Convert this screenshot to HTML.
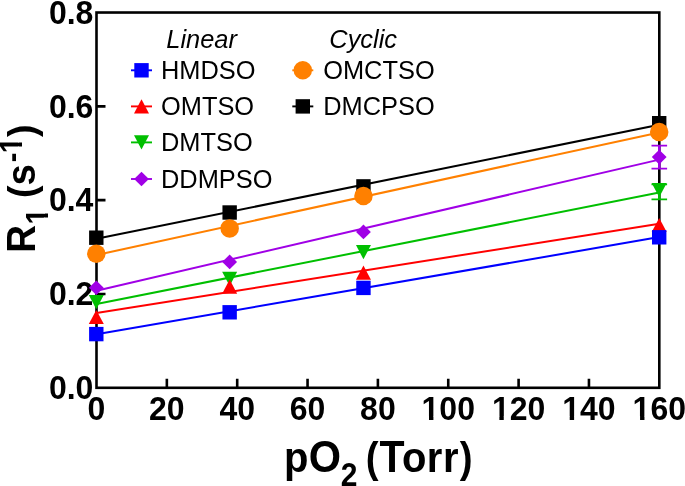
<!DOCTYPE html>
<html><head><meta charset="utf-8"><title>R1 vs pO2</title><style>
html,body{margin:0;padding:0;background:#fff;}
body{width:685px;height:486px;overflow:hidden;}
svg{display:block;will-change:transform;}
text{font-family:"Liberation Sans", sans-serif;fill:#000;}
</style></head><body>
<svg width="685" height="486" viewBox="0 0 685 486">
<rect width="685" height="486" fill="#fff"/>
<rect x="96.50" y="12.52" width="562.80" height="375.28" fill="none" stroke="#000" stroke-width="2.6"/>
<path d="M166.85 387.80V378.80M237.20 387.80V378.80M307.55 387.80V378.80M377.90 387.80V378.80M448.25 387.80V378.80M518.60 387.80V378.80M588.95 387.80V378.80M96.50 293.98H105.50M96.50 200.16H105.50M96.50 106.34H105.50" stroke="#000" stroke-width="2.6" fill="none"/>
<text transform="translate(96.50,420.00) scale(1,1.06)" font-size="32" text-anchor="middle" font-weight="bold">0</text>
<text transform="translate(166.85,420.00) scale(1,1.06)" font-size="32" text-anchor="middle" font-weight="bold">20</text>
<text transform="translate(237.20,420.00) scale(1,1.06)" font-size="32" text-anchor="middle" font-weight="bold">40</text>
<text transform="translate(307.55,420.00) scale(1,1.06)" font-size="32" text-anchor="middle" font-weight="bold">60</text>
<text transform="translate(377.90,420.00) scale(1,1.06)" font-size="32" text-anchor="middle" font-weight="bold">80</text>
<text clip-path="url(#c100)" transform="translate(448.25,420.00) scale(1,1.06)" font-size="32" text-anchor="middle" font-weight="bold">100</text>
<text clip-path="url(#c120)" transform="translate(518.60,420.00) scale(1,1.06)" font-size="32" text-anchor="middle" font-weight="bold">120</text>
<text clip-path="url(#c140)" transform="translate(588.95,420.00) scale(1,1.06)" font-size="32" text-anchor="middle" font-weight="bold">140</text>
<text clip-path="url(#c160)" transform="translate(659.30,420.00) scale(1,1.06)" font-size="32" text-anchor="middle" font-weight="bold">160</text>
<text transform="translate(93.40,399.00) scale(1,1.06)" font-size="32" text-anchor="end" font-weight="bold">0.0</text>
<text transform="translate(93.40,305.18) scale(1,1.06)" font-size="32" text-anchor="end" font-weight="bold">0.2</text>
<text transform="translate(93.40,211.36) scale(1,1.06)" font-size="32" text-anchor="end" font-weight="bold">0.4</text>
<text transform="translate(93.40,117.54) scale(1,1.06)" font-size="32" text-anchor="end" font-weight="bold">0.6</text>
<text transform="translate(93.40,23.72) scale(1,1.06)" font-size="32" text-anchor="end" font-weight="bold">0.8</text>
<line x1="96.50" y1="238.80" x2="659.30" y2="124.70" stroke="#000000" stroke-width="2.0"/>
<line x1="96.50" y1="254.90" x2="659.30" y2="132.40" stroke="#ff8000" stroke-width="2.0"/>
<line x1="96.50" y1="290.70" x2="659.30" y2="159.60" stroke="#a000e6" stroke-width="2.0"/>
<line x1="96.50" y1="303.90" x2="659.30" y2="192.60" stroke="#00bf00" stroke-width="2.0"/>
<line x1="96.50" y1="312.90" x2="659.30" y2="223.80" stroke="#ff0000" stroke-width="2.0"/>
<line x1="96.50" y1="334.30" x2="659.30" y2="237.10" stroke="#0000ff" stroke-width="2.0"/>
<path d="M659.30 145.60V168.60" stroke="#a000e6" stroke-width="2.6" fill="none"/><path d="M651.50 145.60H667.10M651.50 168.60H667.10" stroke="#a000e6" stroke-width="1.9" fill="none"/>
<path d="M659.30 184.40V199.40" stroke="#00bf00" stroke-width="2.6" fill="none"/><path d="M651.50 184.40H667.10M651.50 199.40H667.10" stroke="#00bf00" stroke-width="1.9" fill="none"/>
<polygon points="96.30,280.50 103.70,287.80 96.30,295.10 88.90,287.80" fill="#a000e6"/>
<polygon points="229.65,254.60 237.05,261.90 229.65,269.20 222.25,261.90" fill="#a000e6"/>
<polygon points="363.45,224.60 370.85,231.90 363.45,239.20 356.05,231.90" fill="#a000e6"/>
<polygon points="659.20,149.80 666.60,157.10 659.20,164.40 651.80,157.10" fill="#a000e6"/>
<polygon points="88.80,295.00 103.80,295.00 96.30,309.20" fill="#00bf00"/>
<polygon points="222.15,271.70 237.15,271.70 229.65,285.90" fill="#00bf00"/>
<polygon points="355.95,245.10 370.95,245.10 363.45,259.30" fill="#00bf00"/>
<polygon points="651.70,183.00 666.70,183.00 659.20,197.20" fill="#00bf00"/>
<polygon points="96.30,309.90 103.80,324.10 88.80,324.10" fill="#ff0000"/>
<polygon points="229.65,279.50 237.15,293.70 222.15,293.70" fill="#ff0000"/>
<polygon points="363.45,265.60 370.95,279.80 355.95,279.80" fill="#ff0000"/>
<polygon points="659.20,217.90 666.70,232.10 651.70,232.10" fill="#ff0000"/>
<rect x="89.10" y="326.90" width="14.40" height="14.40" fill="#0000ff"/>
<rect x="222.45" y="305.10" width="14.40" height="14.40" fill="#0000ff"/>
<rect x="356.25" y="280.70" width="14.40" height="14.40" fill="#0000ff"/>
<rect x="652.00" y="230.10" width="14.40" height="14.40" fill="#0000ff"/>
<rect x="89.10" y="230.50" width="14.40" height="14.40" fill="#000000"/>
<rect x="222.45" y="205.30" width="14.40" height="14.40" fill="#000000"/>
<rect x="356.25" y="179.20" width="14.40" height="14.40" fill="#000000"/>
<rect x="652.00" y="116.00" width="14.40" height="14.40" fill="#000000"/>
<circle cx="96.30" cy="253.80" r="9.25" fill="#ff8000"/>
<circle cx="229.65" cy="228.40" r="9.25" fill="#ff8000"/>
<circle cx="363.45" cy="196.00" r="9.25" fill="#ff8000"/>
<circle cx="659.20" cy="132.00" r="9.25" fill="#ff8000"/>
<text transform="translate(166.30,47.60)" font-size="25.4" font-style="italic">Linear</text>
<text transform="translate(329.30,47.60)" font-size="25.4" font-style="italic">Cyclic</text>
<line x1="131.00" y1="70.30" x2="152.00" y2="70.30" stroke="#0000ff" stroke-width="1.9"/>
<rect x="134.30" y="63.10" width="14.40" height="14.40" fill="#0000ff"/>
<text transform="translate(161.00,79.10) scale(1,1.04)" font-size="25.4">HMDSO</text>
<line x1="131.00" y1="106.40" x2="152.00" y2="106.40" stroke="#ff0000" stroke-width="1.9"/>
<polygon points="141.50,99.30 149.00,113.50 134.00,113.50" fill="#ff0000"/>
<text transform="translate(161.00,115.20) scale(1,1.04)" font-size="25.4">OMTSO</text>
<line x1="131.00" y1="142.40" x2="152.00" y2="142.40" stroke="#00bf00" stroke-width="1.9"/>
<polygon points="134.00,135.30 149.00,135.30 141.50,149.50" fill="#00bf00"/>
<text transform="translate(161.00,151.20) scale(1,1.04)" font-size="25.4">DMTSO</text>
<line x1="131.00" y1="179.00" x2="152.00" y2="179.00" stroke="#a000e6" stroke-width="1.9"/>
<polygon points="141.50,171.70 148.90,179.00 141.50,186.30 134.10,179.00" fill="#a000e6"/>
<text transform="translate(161.00,187.80) scale(1,1.04)" font-size="25.4">DDMPSO</text>
<line x1="292.30" y1="70.30" x2="313.30" y2="70.30" stroke="#ff8000" stroke-width="1.9"/>
<circle cx="302.80" cy="70.30" r="9.25" fill="#ff8000"/>
<text transform="translate(323.20,79.10) scale(1,1.04)" font-size="25.4">OMCTSO</text>
<line x1="292.30" y1="106.40" x2="313.30" y2="106.40" stroke="#000000" stroke-width="1.9"/>
<rect x="295.60" y="99.20" width="14.40" height="14.40" fill="#000000"/>
<text transform="translate(323.20,115.20) scale(1,1.04)" font-size="25.4">DMCPSO</text>
<text transform="translate(280.00,471.80) scale(1,1.08)" font-weight="bold"><tspan x="3.93" y="0.00" font-size="40">p</tspan><tspan x="28.88" y="0.00" font-size="41.5">O</tspan><tspan x="60.69" y="13.40" font-size="30">2</tspan><tspan x="85.70" y="0.00" font-size="38.5">(</tspan><tspan x="99.47" y="0.00" font-size="41">T</tspan><tspan x="121.88" y="0.00" font-size="40">o</tspan><tspan x="146.85" y="0.00" font-size="40">r</tspan><tspan x="163.05" y="0.00" font-size="40">r</tspan><tspan x="179.78" y="0.00" font-size="38.5">)</tspan></text>
<text transform="translate(35.00,250) rotate(-90) scale(1,1.05)" font-weight="bold" clip-path="url(#cy)"><tspan x="-2.75" y="0.00" font-size="38.5">R</tspan><tspan x="25.63" y="12.00" font-size="29">1</tspan><tspan x="51.97" y="0.00" font-size="37.6">(</tspan><tspan x="64.46" y="0.00" font-size="38.5">s</tspan><tspan x="87.64" y="-12.60" font-size="29">-</tspan><tspan x="96.73" y="-12.60" font-size="29">1</tspan><tspan x="112.91" y="0.00" font-size="37.6">)</tspan></text>
<defs><clipPath id="c100" clipPathUnits="userSpaceOnUse"><path clip-rule="evenodd" d="M-3000 -3000H3000V3000H-3000ZM-26.23 -3.87H-19.23V0.80H-26.23ZM-14.84 -3.87H-8.41V0.80H-14.84Z"/></clipPath><clipPath id="c120" clipPathUnits="userSpaceOnUse"><path clip-rule="evenodd" d="M-3000 -3000H3000V3000H-3000ZM-26.23 -3.87H-19.23V0.80H-26.23ZM-14.84 -3.87H-8.41V0.80H-14.84Z"/></clipPath><clipPath id="c140" clipPathUnits="userSpaceOnUse"><path clip-rule="evenodd" d="M-3000 -3000H3000V3000H-3000ZM-26.23 -3.87H-19.23V0.80H-26.23ZM-14.84 -3.87H-8.41V0.80H-14.84Z"/></clipPath><clipPath id="c160" clipPathUnits="userSpaceOnUse"><path clip-rule="evenodd" d="M-3000 -3000H3000V3000H-3000ZM-26.23 -3.87H-19.23V0.80H-26.23ZM-14.84 -3.87H-8.41V0.80H-14.84Z"/></clipPath><clipPath id="cy" clipPathUnits="userSpaceOnUse"><path clip-rule="evenodd" d="M-3000 -3000H3000V3000H-3000ZM26.06 8.44H32.40V12.80H26.06ZM36.38 8.44H42.20V12.80H36.38ZM97.16 -16.16H103.50V-11.80H97.16ZM107.48 -16.16H113.30V-11.80H107.48Z"/></clipPath></defs>
</svg>
</body></html>
